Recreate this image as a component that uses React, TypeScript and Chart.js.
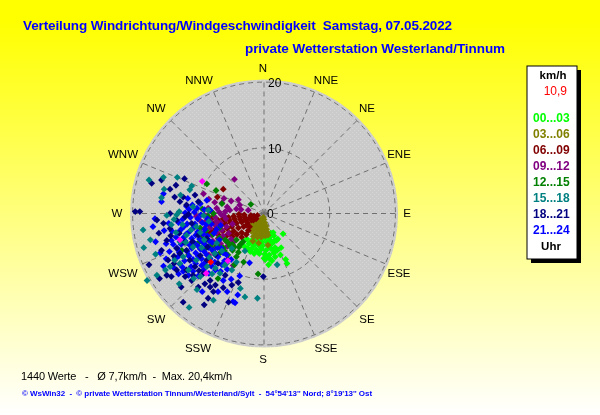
import React, { useEffect, useRef } from "react";
import { Chart, registerables } from "chart.js";

Chart.register(...registerables);

// wind vectors: [east, north] in km/h
const hours00to03: number[][] = [[2.9,-3.1],[1.9,-4.1],[2.6,-5.2],[3.3,-7],[2.5,-6.3],[0.7,-7.8],[3.5,-7.6],[0.2,-7],[-2.1,-5.8],[-0.7,-6.1],[-2.3,-4.6],[-1.6,-4.9],[-0.9,-4.7],[-0.2,-4.9],[0.5,-4.4],[1.2,-4.6],[-1.9,-5.4],[-1.2,-5.5],[-0.4,-5.4],[0.3,-5.6],[1,-5.3],[1.7,-5.2],[-1.5,-6.1],[0.1,-6.2],[0.8,-6.3],[1.5,-6],[2,-5.6],[0,-6.8],[0.9,-6.9],[1.7,-6.6],[-0.8,-3.8],[0.1,-3.8],[0.8,-3.6],[1.5,-3.4],[2.1,-3.9],[1.4,-2.9],[-1.6,-3.9],[-2.6,-3.9],[-3,-5],[1.2,-7.2],[-1.3,-4.3],[-0.4,-4.3],[0.9,-4],[1.6,-4.2],[-2,-4.3],[-0.6,-5],[0.7,-5],[1.4,-5.6],[-0.9,-5.9],[0.4,-6.5],[-2.5,-5.3],[-1.4,-3.4],[0.4,-3.2],[1,-3]];
const hours03to06: number[][] = [[-0.1,-0.6],[-0.5,-0.9],[-0.2,-1],[0,-0.9],[-1,-1.3],[-0.6,-1.5],[-0.2,-1.6],[0.1,-1.4],[-1.5,-1.5],[-1.1,-1.9],[-0.6,-2.1],[-0.1,-2.1],[0.3,-1.9],[-2.1,-1.8],[-1.6,-2.2],[-1.1,-2.5],[-0.5,-2.7],[0.1,-2.6],[0.4,-2.4],[-1.9,-2.7],[-1.3,-3],[-0.7,-3.2],[-0.1,-3.1],[0.5,-2.9],[-1.6,-3.5],[-1,-3.6],[-0.4,-3.6],[0.2,-3.4],[0.6,-3.3],[-0.8,-4.5],[0.6,-4.8],[-1.7,-4.2]];
const hours06to09: number[][] = [[-6.2,3.7],[-7.1,2.5],[-1,-0.3],[-1.5,-0.4],[-1.2,-0.8],[-2,-0.3],[-2.2,-0.7],[-1.9,-1],[-3,-0.2],[-2.9,-0.6],[-2.8,-1],[-2.5,-1.4],[-3.8,-0.1],[-3.7,-0.5],[-3.6,-0.9],[-3.4,-1.3],[-3.1,-2],[-4.6,-0.4],[-4.5,-0.8],[-4.4,-1.2],[-4.2,-1.5],[-3.9,-2.2],[-5.4,-0.6],[-5.3,-1],[-5.1,-1.4],[-4.9,-2],[-4.6,-2.7],[-6.2,-0.8],[-6.1,-1.2],[-5.9,-1.6],[-5.6,-2.3],[-5.2,-3],[-7,-1],[-6.8,-1.4],[-6.6,-1.9],[-6.3,-2.7],[-5.7,-3.4],[-7.6,-1.5],[-7.4,-2.4],[-7,-3.2],[-8.3,-1.8],[-8,-2.8],[-8.7,-3],[-2.4,-2.6],[-3.4,-2.9],[-2.7,-1.8],[-2.2,-2],[-1.6,-1],[-4.1,-3.2],[-3.4,-3.6],[-4.8,-3.5],[-6.2,-3.6],[-2.7,-3.2],[-7.8,-0.6]];
const hours09to12: number[][] = [[-4.5,5.2],[-3.9,2.1],[-3.7,1.3],[-5.6,1],[-5.9,0.3],[-2.4,0.5],[-6.4,1.6],[-9.2,3],[-4.7,-7.9],[-5.5,-7],[-6.1,2.3],[-5,1.9],[-7.2,0.8],[-7.9,0.2],[-8.5,0.8],[-9.1,-0.2],[-6.5,-0.2],[-7.4,-0.6],[-8.2,-1.1],[-9,-1.3],[-9.8,-1],[-5.8,-0.8],[-6.6,-1.4],[-7.4,-1.8],[-8.2,-2.2],[-9.1,-2.3],[-4.8,-1.6],[-5.7,-2],[-6.4,-2.5],[-7.2,-2.9],[-8,-3.3],[-8.9,-3.5],[-5.4,-3],[-6.2,-3.4],[-7,-3.8],[-7.8,-4.2],[-5,-3.9],[-5.8,-4.2],[-6.6,-4.6],[-7.4,-5.1],[-4.7,-4.4],[-5.6,-5],[-6.4,-5.4],[-10.3,-0.4],[-10.6,-2.1],[-8.4,-6.3],[-9.1,-7.8],[-3.5,0.6],[-7.5,1.7],[-8.4,2.2],[-6.8,0.2],[-5.2,0.5],[-4.2,0.7],[-6.1,-0.3],[-7.2,-1.2],[-8.6,-0.4],[-9.6,-2.9]];
const hours12to15: number[][] = [[-8.7,4.5],[-7.3,3.5],[-6.4,1.5],[-2,1.4],[-7.7,0],[-0.9,-9.2],[-3.1,-7.4],[-4.2,-6.6],[-7,-9.9],[-9.4,0.7],[-8.5,-0.4],[-9.7,-2.2],[-8.8,-2.6],[-7.8,-3.2],[-6.8,-3.7],[-5.9,-4],[-4.8,-4.7],[-3.8,-5.1],[-3.2,-4.3],[-4.2,-4],[-5.2,-5],[-6.2,-5.2],[-7.2,-4.9],[-8.1,-4.7],[-8.9,-5.3],[-6.7,-6],[-5.5,-6.3],[-7.6,-5.9],[-4.8,-5.6],[-9.9,-4.4],[-10.6,-4.6],[-12.5,-5.6],[-11.5,-6.3],[-8.1,-7.9],[-4.5,-7.8],[-3.9,-5.9],[-9.8,1.6],[-6.8,-2.2],[-5.5,-4.4],[-3.6,-4.7],[-4.5,-5.1],[-6,-5.7],[-6.9,-5.1],[-7.9,-5.4],[-8.7,-4],[-9.6,-3.6]];
const hours15to18: number[][] = [[-17.5,5.1],[-15.3,5.5],[-13.2,5.5],[-11,4.2],[-15.2,3.7],[-15.6,2.4],[-12.7,2.8],[-13.7,-0.9],[-14.8,-0.3],[-18.4,-2.5],[-17.3,-4],[-18.3,-5.2],[-16.5,-6.2],[-16.3,-9.4],[-17.8,-10.2],[-12.9,-10.7],[-10.2,-11.6],[-11.4,-14.3],[-7.7,-13.2],[-1,-12.9],[-2.9,-12.7],[-3.6,-11.4],[2,-7.8],[-4.9,-8.6],[-2.9,-5.7],[-11.8,-3.3],[-10.3,-2],[-9.2,-0.3],[-10.8,-5.1],[-12.3,-6.6],[-14.3,-8.1],[-15,-8.6],[-13.6,-7.1],[-10.3,-7.1],[-8.7,-8.1],[-11.5,-8.6],[-9.7,-9.6],[-6.7,-9.1],[-5.7,-7.6],[-4.2,-7.4],[-4.9,-5.3],[-7.5,-6.1],[-8.5,0.5],[-10.8,1],[-11.3,3.6],[-9.1,-4],[-7.2,-4.5],[-12.8,-4.3],[-8.3,-6.7],[-6,-7.9],[-13.3,-0.2],[-12.9,0.3],[-14.1,-1.7],[-11.1,-2.5],[-9.7,-2.9],[-8.4,-1.2],[-13.4,-2.9],[-12.4,-1.7],[-9.5,-5.2],[-11.9,-4.4],[-7.9,-9.2],[-10.7,-9.9],[-12.8,-7.6],[-6.4,-5.7],[-7.4,-8.3]];
const hours18to21: number[][] = [[-17.1,4.6],[-15.6,5.1],[-12.1,5.3],[-13.4,4.3],[-14.3,3.7],[-19.6,0.3],[-18.9,0.3],[-13.6,2.5],[-12.8,1.8],[-12.3,2.5],[-16.3,-1],[-15.3,-1.5],[-14.3,-2.3],[-16,-3],[-14.8,-4.1],[-15.6,-5.6],[-17.5,-7.8],[-15.9,-9.9],[-14.8,-9.4],[-14.1,-9.6],[-14.6,-7.1],[-12.3,-13.5],[-9.1,-13.9],[-8.5,-12.9],[-7.7,-11.9],[-5.4,-13.5],[-3.9,-10.5],[-0.1,-9.6],[-8.2,-10.2],[-9,-10.7],[-7.4,-10.9],[-8.2,-11.2],[-11.8,-8.6],[-10.8,-9.4],[-12,-9.6],[-13.3,-8.6],[-10.5,-8.1],[-11.3,-7.1],[-8.7,-7.1],[-12.8,-6.1],[-13.3,-5.3],[-11.8,-5.6],[-14.3,0],[-13.3,-1],[-11.8,1.3],[-10,1.8],[-10.5,2.8],[-12,-0.5],[-11,-1.5],[-10,-3.3],[-8.7,-3.8],[-7,-7.6],[-9.2,-9.1],[-11,-10.2],[-4.9,-10.9],[-5.9,-9.4],[-6.2,-11.3],[-12.6,-11.2],[-10,-11.2],[-12.1,-4.4],[-10.9,-4.3],[-13.7,-6.5],[-9.7,-6.4],[-8.6,-5.1],[-7.4,-6.3],[-12.9,-3],[-9.9,-8.7],[-13.7,-7.6],[-14.2,-3.4],[-11.5,-0.1]];
const hours21to24: number[][] = [[-15.6,1.8],[-15.3,3],[-16.6,-0.8],[-16.9,-2],[-16.5,-4.3],[-11.6,2.3],[-9.7,1.5],[-8.7,2],[-8.2,0.5],[-10.9,1.3],[-11.4,0.6],[-12,0.1],[-10.6,0.2],[-11.2,-0.6],[-12.4,-0.9],[-10.1,-0.8],[-9.6,-0.2],[-13,-1.4],[-11.7,-1.6],[-10.5,-1.6],[-9.4,-1.4],[-14.5,-1.5],[-15.2,-2.6],[-14,-2.7],[-12.6,-2.4],[-11.3,-2.7],[-10.1,-2.8],[-9,-2.4],[-8,-1.6],[-13.4,-3.6],[-12.2,-3.6],[-11,-3.8],[-9.8,-3.9],[-8.6,-3.4],[-7.6,-3],[-14.9,-4.6],[-13.8,-4.7],[-12.6,-4.7],[-11.3,-4.8],[-10.1,-4.9],[-9,-4.7],[-7.9,-4.4],[-6.8,-4],[-15.8,-6],[-14.4,-5.8],[-12.9,-5.9],[-11.7,-5.8],[-10.4,-6],[-9.1,-5.8],[-7.8,-5.6],[-6.5,-5.3],[-14.9,-6.9],[-13.5,-6.9],[-12.1,-7.2],[-10.8,-7],[-9.5,-6.9],[-8.2,-6.9],[-7,-6.6],[-5.7,-6.3],[-15.3,-8],[-13.8,-8.2],[-12.4,-8.2],[-11.1,-8.1],[-9.5,-7.9],[-8,-8],[-6.4,-7.8],[-5,-7],[-13,-9.2],[-11.5,-9.4],[-10,-9.5],[-8.4,-9.1],[-6.6,-8.8],[-5.6,-8.5],[-5.6,-11.9],[-4.4,-13.6],[-4,-12.4],[-2.2,-7.5],[-5,-10],[-6.2,-10.2],[-3.7,-9.5],[-6.6,-1.8],[-7.2,-2.4],[-9.4,-11.9],[-7,-11.9],[-4.7,-13.4],[-12.2,-2],[-10.7,-2.1],[-11.8,-3.1],[-10.4,-3.3],[-9.3,-3.1],[-12,-4.2],[-10.7,-4.4],[-9.4,-4.3],[-8.3,-4.2],[-13.2,-5.3],[-11,-5.3],[-9.7,-5.4],[-8.4,-5.2],[-7.1,-5.2],[-13,-6.5],[-11.4,-6.5],[-10,-6.5],[-8.7,-6.3],[-7.4,-6.1],[-6.2,-6],[-12.8,-7.7],[-10.4,-7.6],[-9,-7.5],[-7.5,-7.4],[-6,-7.2],[-10.8,-8.8],[-9.2,-8.6],[-7.4,-8.6],[-12.3,-8.8],[-14.1,-4.1],[-13.1,-2.9],[-8.8,-1.7],[-8.6,-0.8],[-9.1,0.6],[-10.2,0.8],[-11.8,1.1]];
const highlightMagenta: number[][] = [[-9.4,4.9],[-12.8,-4],[-5.5,-7.2],[-8.8,-9.1]];
const highlightRed: number[][] = [[-8.1,-7.4]];

// drawn first to last
const seriesValues = [hours00to03, hours03to06, hours06to09, hours09to12, hours12to15, hours21to24, hours18to21, hours15to18, highlightMagenta, highlightRed];
const seriesNames = ["00...03", "03...06", "06...09", "09...12", "12...15", "21...24", "18...21", "15...18", "magenta", "red"];
const seriesColors = ["#00ff00", "#808000", "#800000", "#800080", "#008000", "#0000ff", "#000080", "#008080", "#ff00ff", "#ff0000"];
const legendNames = ["00...03", "03...06", "06...09", "09...12", "12...15", "15...18", "18...21", "21...24"];
const legendColors = ["#00ff00", "#808000", "#800000", "#800080", "#008000", "#008080", "#000080", "#0000ff"];
const directions = ["N", "NNE", "NE", "ENE", "E", "ESE", "SE", "SSE", "S", "SSW", "SW", "WSW", "W", "WNW", "NW", "NNW"];
const directionLabelOffsets = [[-1,-145],[62,-133],[103,-105],[135,-59],[143,0.5],[135,60],[103,106],[62,135],[-1,146],[-66,135],[-108,106],[-141,60],[-147,0.5],[-141,-59],[-108,-105],[-65,-133]];
const rings = [10, 20];
const discValue = 20.4;
const titleLine1 = "Verteilung Windrichtung/Windgeschwindigkeit  Samstag, 07.05.2022";
const titleLine2 = "private Wetterstation Westerland/Tinnum";
const statsLine = "1440 Werte   -   Ø 7,7km/h  -  Max. 20,4km/h";
const creditLine = "© WsWin32  -  © private Wetterstation Tinnum/Westerland/Sylt  -  54°54'13'' Nord; 8°19'13'' Ost";
const currentValue = "10,9";

const FONT = '"Liberation Sans", Arial, sans-serif';

function text(ctx: CanvasRenderingContext2D, s: string, x: number, y: number, font: string, color: string, align: CanvasTextAlign = "left", width?: number) {
  ctx.font = font;
  ctx.fillStyle = color;
  ctx.textAlign = align;
  ctx.textBaseline = "middle";
  (ctx as any).letterSpacing = "0px";
  if (width) {
    const w = ctx.measureText(s).width;
    (ctx as any).letterSpacing = (width - w) / s.length + "px";
  }
  ctx.fillText(s, x, y);
  (ctx as any).letterSpacing = "0px";
}

const windRosePlugin = {
  id: "windRose",
  beforeDraw(chart: any) {
    const { ctx, width, height, scales } = chart;
    const g = ctx.createLinearGradient(0, 0, 0, height);
    g.addColorStop(0, "#ffff00");
    g.addColorStop(0.05, "#ffff00");
    g.addColorStop(1, "#ffffff");
    ctx.fillStyle = g;
    ctx.fillRect(0, 0, width, height);

    const cx = scales.x.getPixelForValue(0);
    const cy = scales.y.getPixelForValue(0);
    const unit = scales.x.getPixelForValue(1) - cx;

    const tile = document.createElement("canvas");
    tile.width = 4;
    tile.height = 4;
    const t = tile.getContext("2d")!;
    t.fillStyle = "#cbcbcb";
    t.fillRect(0, 0, 4, 4);
    t.fillStyle = "#d6d6d6";
    t.fillRect(0, 0, 1, 1);
    t.fillRect(2, 2, 1, 1);
    ctx.save();
    ctx.fillStyle = ctx.createPattern(tile, "repeat");
    ctx.beginPath();
    ctx.arc(cx, cy, discValue * unit, 0, Math.PI * 2);
    ctx.fill();

    ctx.strokeStyle = "#707070";
    ctx.lineWidth = 1;
    ctx.setLineDash([5, 4]);
    rings.forEach((r) => {
      ctx.beginPath();
      ctx.arc(cx, cy, r * unit, 0, Math.PI * 2);
      ctx.stroke();
    });
    directions.forEach((_, i) => {
      const a = (i * Math.PI) / 8;
      ctx.beginPath();
      ctx.moveTo(cx, cy);
      ctx.lineTo(cx + Math.sin(a) * 20 * unit, cy - Math.cos(a) * 20 * unit);
      ctx.stroke();
    });
    ctx.restore();
  },
  afterDatasetsDraw(chart: any) {
    const { ctx, scales } = chart;
    const cx = scales.x.getPixelForValue(0);
    const cy = scales.y.getPixelForValue(0);
    const unit = scales.x.getPixelForValue(1) - cx;
    ctx.save();
    const labelFont = `11.5px ${FONT}`;
    directions.forEach((d, i) => {
      const [dx, dy] = directionLabelOffsets[i];
      text(ctx, d, cx + dx, cy + dy, labelFont, "#000", "center");
    });
    text(ctx, "20", cx + 4, cy - 20 * unit + 2, `12px ${FONT}`, "#000");
    text(ctx, "10", cx + 4, cy - 10 * unit + 1.5, `12px ${FONT}`, "#000");
    text(ctx, "0", cx + 3, cy + 1, `12px ${FONT}`, "#000");

    text(ctx, titleLine1, 23, 26, `bold 13.5px ${FONT}`, "#0000ff", "left", 429);
    text(ctx, titleLine2, 245, 49, `bold 13.5px ${FONT}`, "#0000ff", "left", 260);
    text(ctx, statsLine, 21, 377, `11px ${FONT}`, "#000", "left", 211);
    text(ctx, creditLine, 22, 394, `bold 8px ${FONT}`, "#0000ff", "left", 350);

    ctx.fillStyle = "#000";
    ctx.fillRect(531, 70, 50, 193);
    ctx.fillStyle = "#fff";
    ctx.fillRect(527, 66, 50, 193);
    ctx.strokeStyle = "#000";
    ctx.lineWidth = 1;
    ctx.strokeRect(527, 66, 50, 193);
    text(ctx, "km/h", 553, 76, `bold 11.5px ${FONT}`, "#000", "center");
    text(ctx, currentValue, 567, 92, `12px ${FONT}`, "#ff0000", "right");
    legendNames.forEach((n, i) => {
      text(ctx, n, 533, 119 + i * 16, `bold 12px ${FONT}`, legendColors[i]);
    });
    text(ctx, "Uhr", 551, 247, `bold 11.5px ${FONT}`, "#000", "center");
    ctx.restore();
  },
};

export default function App() {
  const ref = useRef<HTMLCanvasElement | null>(null);
  useEffect(() => {
    document.body.style.margin = "0";
    const chart = new Chart(ref.current!, {
      type: "scatter",
      data: {
        datasets: seriesValues.map((rows, i) => ({
          label: seriesNames[i],
          data: rows.map(([x, y]) => ({ x, y })),
          order: seriesValues.length - i,
          pointStyle: "rectRot",
          pointRadius: 3.4,
          pointBorderWidth: 0,
          backgroundColor: seriesColors[i],
          clip: false,
        })),
      },
      options: {
        animation: false,
        responsive: false,
        devicePixelRatio: 1,
        layout: { padding: { left: 132.6, right: 204.6, top: 82.1, bottom: 70.1 } },
        scales: {
          x: { display: false, min: -20, max: 20 },
          y: { display: false, min: -20, max: 20 },
        },
        plugins: { legend: { display: false }, tooltip: { enabled: false } },
      },
      plugins: [windRosePlugin],
    } as any);
    return () => chart.destroy();
  }, []);
  return <canvas ref={ref} width={600} height={415} style={{ display: "block" }} />;
}
